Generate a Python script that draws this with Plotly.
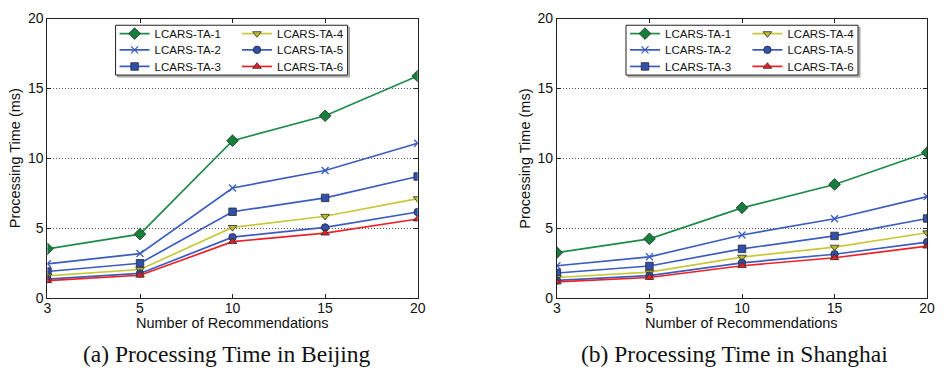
import plotly.graph_objects as go

# ---- data -------------------------------------------------------------
recommendations = [3, 5, 10, 15, 20]
series_names = ["LCARS-TA-1", "LCARS-TA-2", "LCARS-TA-3",
                "LCARS-TA-4", "LCARS-TA-5", "LCARS-TA-6"]

beijing_ta1 = [3.54, 4.59, 11.27, 13.05, 15.89]
beijing_ta2 = [2.47, 3.20, 7.89, 9.14, 11.09]
beijing_ta3 = [1.92, 2.51, 6.19, 7.18, 8.71]
beijing_ta4 = [1.60, 2.06, 5.07, 5.87, 7.13]
beijing_ta5 = [1.37, 1.78, 4.37, 5.07, 6.17]
beijing_ta6 = [1.26, 1.65, 4.05, 4.66, 5.67]

shanghai_ta1 = [3.27, 4.25, 6.47, 8.14, 10.42]
shanghai_ta2 = [2.33, 2.97, 4.53, 5.69, 7.27]
shanghai_ta3 = [1.81, 2.31, 3.54, 4.46, 5.71]
shanghai_ta4 = [1.49, 1.87, 2.95, 3.66, 4.69]
shanghai_ta5 = [1.28, 1.62, 2.54, 3.15, 4.02]
shanghai_ta6 = [1.17, 1.49, 2.33, 2.90, 3.73]

y_tick_values = [0, 5, 10, 15, 20]
x_title = "Number of Recommendations"
y_title = "Processing Time (ms)"
caption_beijing = "(a) Processing Time in Beijing"
caption_shanghai = "(b) Processing Time in Shanghai"

# ---- styling ----------------------------------------------------------
W, H = 944, 383
SANS = "Liberation Sans, Arial, Helvetica, sans-serif"
SERIF = "Liberation Serif, Times New Roman, serif"

GREEN = "#1e8c48"
BLUE = "#3c5cc0"
YELLOW = "#c8c83a"
RED = "#ec2228"
EDGE = "#2a2a2a"

styles = [
    dict(color=GREEN, symbol="diamond", fill="#14803c", size=9),
    dict(color=BLUE, symbol="x-thin", fill=BLUE, size=7),
    dict(color=BLUE, symbol="square", fill="#2f50ac", size=7.5),
    dict(color=YELLOW, symbol="triangle-down", fill="#bcbc30", size=7.5),
    dict(color=BLUE, symbol="circle", fill="#2f50ac", size=7.5),
    dict(color=RED, symbol="triangle-up", fill="#e41e24", size=7.5),
]

panels = [
    dict(series=[beijing_ta1, beijing_ta2, beijing_ta3,
                 beijing_ta4, beijing_ta5, beijing_ta6],
         left=44, right=419, caption=caption_beijing, cap_x=225,
         box_left=113),
    dict(series=[shanghai_ta1, shanghai_ta2, shanghai_ta3,
                 shanghai_ta4, shanghai_ta5, shanghai_ta6],
         left=560, right=935, caption=caption_shanghai, cap_x=740,
         box_left=630),
]
PLOT_TOP, PLOT_BOTTOM = 11, 303
BOX_TOP, BOX_BOTTOM, BOX_W = 18, 70, 235
ROW_Y = [26.7, 43.7, 61.0]
COL_TEXT = [39, 163]
LEGEND_TEXT_OFFSET = 40


def fx(px):
    return px / W


def fy(py):
    return 1 - py / H


x_labels = [str(v) for v in recommendations]
fig = go.Figure()
layout = {}
annotations = []
shapes = []
legend_count = 0

for p_i, panel in enumerate(panels):
    suffix = "" if p_i == 0 else str(p_i + 1)
    xa, ya = "x" + suffix, "y" + suffix
    for s_i, (name, values, st) in enumerate(zip(series_names, panel["series"], styles)):
        legend_count += 1
        legend_id = "legend" if legend_count == 1 else f"legend{legend_count}"
        is_x = st["symbol"] == "x-thin"
        fig.add_trace(go.Scatter(
            x=x_labels, y=values, name=name, mode="lines+markers",
            xaxis=xa, yaxis=ya, legend=legend_id,
            line=dict(color=st["color"], width=1.7),
            marker=dict(symbol=st["symbol"], size=st["size"], color=st["fill"],
                        line=dict(color=st["color"] if is_x else EDGE,
                                  width=1.3 if is_x else 0.8)),
        ))
        col, row = divmod(s_i, 3)
        layout[legend_id] = dict(
            x=fx(panel["box_left"] + COL_TEXT[col] - LEGEND_TEXT_OFFSET),
            y=fy(ROW_Y[row]), xanchor="left", yanchor="middle",
            bgcolor="rgba(0,0,0,0)", borderwidth=0,
            font=dict(family=SANS, size=11.5, color="#111"),
            itemsizing="trace", tracegroupgap=0,
        )

    axis_common = dict(showline=True, linecolor="#222", linewidth=1,
                       mirror="ticks", ticks="inside", ticklen=4,
                       tickcolor="#222",
                       tickfont=dict(family=SANS, size=14, color="#111"),
                       zeroline=False)
    layout["xaxis" + suffix] = dict(
        axis_common, type="category", range=[0, 4],
        domain=[fx(panel["left"]), fx(panel["right"])],
        anchor=ya, showgrid=False, ticklabelstandoff=-3)
    layout["yaxis" + suffix] = dict(
        axis_common, range=[0, 20], tickvals=y_tick_values,
        domain=[fy(PLOT_BOTTOM), fy(PLOT_TOP)], anchor=xa,
        showgrid=True, gridcolor="#555", griddash="1px,2px", gridwidth=0.8)

    # axis titles
    mid_x = (panel["left"] + panel["right"]) / 2
    annotations.append(dict(text=x_title, x=fx(mid_x), y=fy(329),
                            xref="paper", yref="paper", showarrow=False,
                            xanchor="center", yanchor="middle",
                            font=dict(family=SANS, size=14.5, color="#111")))
    annotations.append(dict(text=y_title, x=fx(panel["left"] - 32),
                            y=fy((PLOT_TOP + PLOT_BOTTOM) / 2),
                            xref="paper", yref="paper", showarrow=False,
                            textangle=-90, xanchor="center", yanchor="middle",
                            font=dict(family=SANS, size=14.5, color="#111")))
    annotations.append(dict(text=panel["caption"], x=fx(panel["cap_x"]), y=fy(361),
                            xref="paper", yref="paper", showarrow=False,
                            xanchor="center", yanchor="middle",
                            font=dict(family=SERIF, size=23.5, color="#111")))

    # legend frame with a soft shadow
    bl = panel["box_left"]
    shapes.append(dict(type="rect", xref="paper", yref="paper",
                       x0=fx(bl + 2), x1=fx(bl + BOX_W + 2),
                       y0=fy(BOX_BOTTOM + 2), y1=fy(BOX_TOP + 2),
                       line=dict(color="#9a9a9a", width=1), fillcolor="#bdbdbd",
                       layer="above"))
    shapes.append(dict(type="rect", xref="paper", yref="paper",
                       x0=fx(bl), x1=fx(bl + BOX_W),
                       y0=fy(BOX_BOTTOM), y1=fy(BOX_TOP),
                       line=dict(color="#222", width=1), fillcolor="white",
                       layer="above"))

fig.update_layout(
    width=W, height=H, margin=dict(l=0, r=0, t=0, b=0),
    paper_bgcolor="white", plot_bgcolor="white",
    showlegend=True, annotations=annotations, shapes=shapes,
    **layout,
)

fig.write_html("out.html")
